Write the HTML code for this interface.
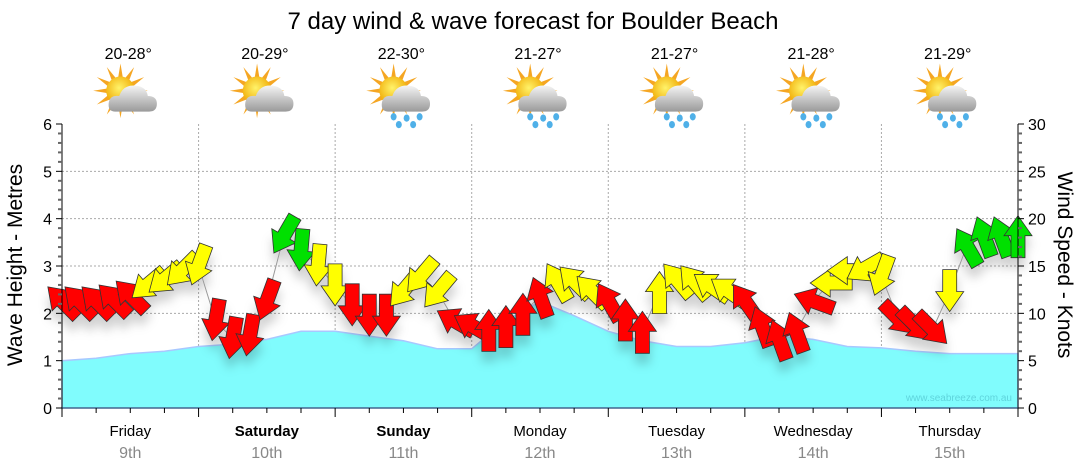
<!DOCTYPE html>
<html><head><meta charset="utf-8">
<style>
body{margin:0;background:#fff;width:1080px;height:475px;overflow:hidden;font-family:"Liberation Sans",Arial,sans-serif}
svg{display:block}
</style></head>
<body>
<svg id="chart" width="1080" height="475" viewBox="0 0 1080 475" xmlns="http://www.w3.org/2000/svg">
<defs>
<filter id="shadow" x="-20%" y="-20%" width="140%" height="160%">
<feDropShadow dx="0" dy="10" stdDeviation="5" flood-color="#000" flood-opacity="0.18"/>
</filter>
<radialGradient id="sunG" cx="0.45" cy="0.4" r="0.6"><stop offset="0" stop-color="#fff36a"/><stop offset="1" stop-color="#f0a800"/></radialGradient>
<linearGradient id="cloudG" x1="0" y1="0" x2="0" y2="1"><stop offset="0" stop-color="#f4f4f4"/><stop offset="1" stop-color="#9a9a9a"/></linearGradient>
</defs>
<text x="533" y="29" font-size="24" text-anchor="middle" fill="#000">7 day wind &amp; wave forecast for Boulder Beach</text>
<g id="gridG"></g>
<g id="waveG"></g>
<g id="windG" filter="url(#shadow)"></g>
<g id="axesG"></g>
<g id="topG"></g>
<text x="1012" y="401" font-size="10" text-anchor="end" fill="#5fd4dc">www.seabreeze.com.au</text>
<text transform="translate(22,265) rotate(-90)" font-size="21" text-anchor="middle">Wave Height - Metres</text>
<text transform="translate(1058,265) rotate(90)" font-size="21" text-anchor="middle">Wind Speed - Knots</text>
</svg>
<script>
const days=["Friday","Saturday","Sunday","Monday","Tuesday","Wednesday","Thursday"];
const dates=["9th","10th","11th","12th","13th","14th","15th"];
const temps=["20-28°","20-29°","22-30°","21-27°","21-27°","21-28°","21-29°"];
const rainy=[false,false,true,true,true,true,true];
const waveHeights=[1.0,1.05,1.15,1.2,1.3,1.35,1.45,1.62,1.62,1.52,1.42,1.25,1.25,1.85,2.25,1.95,1.62,1.42,1.3,1.3,1.38,1.52,1.45,1.3,1.27,1.2,1.15,1.15,1.15];
const windSpeeds=[11.3,11.3,11.3,11.5,11.9,13.0,13.6,14.5,15.0,9.2,7.3,7.6,11.3,18.2,16.6,15.0,12.9,10.8,9.7,9.7,12.4,13.9,12.3,9.2,8.7,8.3,8.7,10.0,11.8,13.4,13.4,12.4,11.3,9.4,8.1,12.3,13.6,13.4,12.9,12.4,11.3,8.7,7.3,8.1,11.3,13.2,14.5,14.7,13.9,9.4,8.7,8.3,12.3,17.1,18.2,18.2,18.2];
const windDirs=[135,135,135,135,135,50,50,45,20,10,10,10,20,30,5,5,0,0,0,0,40,40,40,120,120,180,180,180,160,150,135,135,150,180,180,180,140,140,125,125,145,160,160,160,110,90,90,60,20,315,315,315,0,150,160,160,180];
const waveLevels=[0,1,2,3,4,5,6];
const windTicks=[0,5,10,15,20,25,30];

const NS="http://www.w3.org/2000/svg";
const X0=62,X1=1018,Y0=408,Y6=124;
const nH=(days.length*24);
const xT=h=>X0+(X1-X0)*h/nH;
const yM=m=>Y0-(Y0-Y6)*m/6;
const yK=k=>Y0-(Y0-Y6)*k/30;
function mk(tag,attrs,parent){const e=document.createElementNS(NS,tag);for(const k in attrs)e.setAttribute(k,attrs[k]);parent.appendChild(e);return e;}
const gridEl=document.getElementById('gridG'),axesEl=document.getElementById('axesG'),waveEl=document.getElementById('waveG'),windEl=document.getElementById('windG'),topEl=document.getElementById('topG');

waveLevels.slice(1,6).forEach(m=>{const l=mk('line',{x1:X0,x2:X1,y1:yM(m),y2:yM(m),stroke:'#aaa','stroke-dasharray':'2,2'},gridEl);

});
for(let d=1;d<days.length;d++){const l=mk('line',{x1:xT(d*24),x2:xT(d*24),y1:Y6,y2:Y0,stroke:'#aaa','stroke-dasharray':'2,2'},gridEl);

}

const wStep=nH/(waveHeights.length-1);
let pd='M'+X0+','+Y0;
waveHeights.forEach((v,i)=>{pd+=' L'+xT(i*wStep).toFixed(1)+','+yM(v).toFixed(1);});
pd+=' L'+X1+','+Y0+' Z';
const wa=mk('path',{d:pd,fill:'#80fcfd',stroke:'#a8c8ff','stroke-width':1.5},waveEl);



const kStep=nH/(windSpeeds.length-1);
const pts=windSpeeds.map((v,i)=>xT(i*kStep).toFixed(1)+','+yK(v).toFixed(1)).join(' ');
const wl=mk('polyline',{points:pts,fill:'none',stroke:'#999','stroke-width':1},windEl);


windSpeeds.forEach((v,i)=>{
  const col=v>=16.5?'#00e000':(v>=12?'#ffff00':'#ff0000');
  const a=mk('path',{d:'M-7,-22 L7,-22 L7,0 L14,0 L0,20 L-14,0 L-7,0 Z',fill:col,stroke:'#333','stroke-width':0.8,
    transform:'translate('+xT(i*kStep).toFixed(1)+','+yK(v).toFixed(1)+') rotate('+windDirs[i]+')'},windEl);
  
  
});

mk('line',{x1:X0,x2:X0,y1:Y6,y2:Y0,stroke:'#000'},axesEl);
mk('line',{x1:X1,x2:X1,y1:Y6,y2:Y0,stroke:'#000'},axesEl);
mk('line',{x1:X0,x2:X1,y1:Y0,y2:Y0,stroke:'#135'},axesEl);
for(let m=0;m<=30;m++){const v=m/5;const maj=m%5==0;mk('line',{x1:X0-(maj?6:4),x2:X0,y1:yM(v),y2:yM(v),stroke:maj?'#000':'#666','stroke-width':maj?1:2},axesEl);}
waveLevels.forEach(m=>{const t=mk('text',{x:X0-10,y:yM(m)+6,'font-size':16,'text-anchor':'end'},axesEl);t.textContent=m;

});
for(let k=0;k<=30;k++){const maj=k%5==0;mk('line',{x1:X1,x2:X1+(maj?6:4),y1:yK(k),y2:yK(k),stroke:maj?'#000':'#666','stroke-width':maj?1:2},axesEl);}
windTicks.forEach(k=>{const t=mk('text',{x:X1+10,y:yK(k)+6,'font-size':16},axesEl);t.textContent=k;

});
for(let h=0;h<=nH;h+=6){const maj=h%24==0;mk('line',{x1:xT(h),x2:xT(h),y1:Y0,y2:Y0+(maj?9:5),stroke:'#000'},axesEl);}
days.forEach((dn,i)=>{const cx=xT(i*24+12);
  const t=mk('text',{x:cx,y:436,'font-size':15,'text-anchor':'middle','font-weight':(i==1||i==2)?'bold':'normal'},axesEl);t.textContent=dn;
  
  
  const t2=mk('text',{x:cx,y:458,'font-size':16,'text-anchor':'middle',fill:'#888'},axesEl);t2.textContent=dates[i];
  
  
  const t3=mk('text',{x:cx-2,y:59,'font-size':16,'text-anchor':'middle'},topEl);t3.textContent=temps[i];
  
  
  const g=mk('g',{transform:'translate('+(cx-2)+',96) scale(1.3)'},topEl);
  
  
  for(let r=0;r<12;r++){const an=r*30;mk('path',{d:'M-2,-9 L0,-21 L2,-9 Z',fill:'#f5a623',transform:'translate(-6,-4) rotate('+an+')'},g);}
  mk('circle',{cx:-6,cy:-4,r:11,fill:'url(#sunG)'},g);
  mk('path',{d:'M-10,12 Q-16,12 -15,5 Q-14,-1 -7,0 Q-4,-9 6,-8 Q14,-7 15,0 Q22,0 22,6 Q22,12 16,12 Z',fill:'url(#cloudG)'},g);
  if(rainy[i]){[[-6,16],[4,17],[14,16],[-2,22],[9,22]].forEach(p=>mk('ellipse',{cx:p[0],cy:p[1],rx:2.3,ry:2.8,fill:'#4fb0e8'},g));}
});
</script>
</body></html>
